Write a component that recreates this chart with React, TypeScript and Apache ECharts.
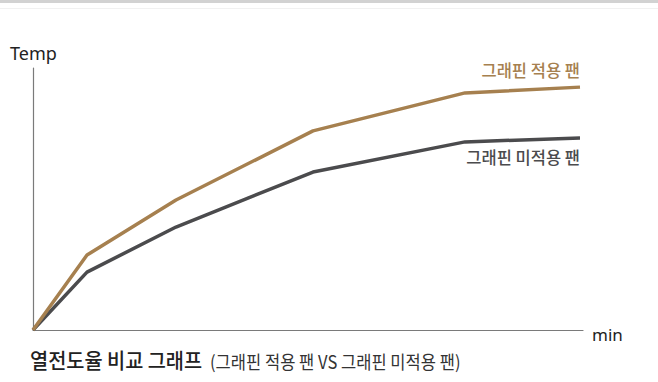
import React, { useEffect, useRef } from "react";
import * as echarts from "echarts";

const minutes = [0, 5.4, 14.3, 28, 43.2, 54.7];
const withGraphene = [0, 28.6, 49.6, 76.0, 90.5, 92.7];
const withoutGraphene = [0, 22.1, 39.3, 60.3, 71.8, 73.3];
const seriesNames = ["그래핀 적용 팬", "그래핀 미적용 팬"];
const axisNames = ["Temp", "min"];
const titleMain = "열전도율 비교 그래프";
const titleSub = "(그래핀 적용 팬 VS 그래핀 미적용 팬)";

const BROWN = "#a6804f";
const DARK = "#4b4b4d";
const FONT = "'Noto Sans CJK KR', 'Noto Sans', sans-serif";
const LATIN = "'Noto Sans', 'Open Sans', sans-serif";

export default function App() {
  const ref = useRef<HTMLDivElement>(null);
  useEffect(() => {
    if (!ref.current) return;
    const chart = echarts.init(ref.current, null, { renderer: "svg" });
    const pair = (ys: number[]) => minutes.map((x, i) => [x, ys[i]]);
    chart.setOption({
      animation: false,
      backgroundColor: "#ffffff",
      grid: { left: 33, right: 75, top: 68, bottom: 52 },
      xAxis: {
        type: "value",
        min: 0,
        max: 55,
        axisLine: { show: true, lineStyle: { color: "#7a7a7a", width: 1.2 } },
        axisTick: { show: false },
        axisLabel: { show: false },
        splitLine: { show: false },
      },
      yAxis: {
        type: "value",
        min: 0,
        max: 100,
        axisLine: { show: true, lineStyle: { color: "#7a7a7a", width: 1.2 } },
        axisTick: { show: false },
        axisLabel: { show: false },
        splitLine: { show: false },
      },
      series: [
        {
          name: seriesNames[0],
          type: "line",
          data: pair(withGraphene),
          showSymbol: false,
          symbol: "none",
          lineStyle: { color: BROWN, width: 3.5 },
          z: 3,
        },
        {
          name: seriesNames[1],
          type: "line",
          data: pair(withoutGraphene),
          showSymbol: false,
          symbol: "none",
          lineStyle: { color: DARK, width: 3.5 },
          z: 2,
        },
      ],
      graphic: [
        { type: "rect", shape: { x: 0, y: 0, width: 658, height: 3 }, style: { fill: "#d2d2d2" } },
        { type: "rect", shape: { x: 0, y: 8, width: 658, height: 1 }, style: { fill: "#f1f1f1" } },
        {
          type: "text",
          x: 10,
          y: 53,
          style: { text: axisNames[0], font: `18px ${LATIN}`, fill: "#222", textVerticalAlign: "middle" },
        },
        {
          type: "text",
          x: 592,
          y: 334,
          style: { text: axisNames[1], font: `17px ${LATIN}`, fill: "#222", textVerticalAlign: "middle" },
        },
        {
          type: "text",
          x: 580,
          y: 70,
          style: { text: seriesNames[0], font: `500 16.5px ${FONT}`, fill: BROWN, textAlign: "right", textVerticalAlign: "middle" },
        },
        {
          type: "text",
          x: 580,
          y: 157,
          style: { text: seriesNames[1], font: `500 16.5px ${FONT}`, fill: DARK, textAlign: "right", textVerticalAlign: "middle" },
        },
        {
          type: "text",
          x: 30,
          y: 359,
          scaleX: 0.94,
          style: { text: titleMain, font: `500 21px ${FONT}`, fill: "#222", textVerticalAlign: "middle" },
        },
        {
          type: "text",
          x: 210,
          y: 361,
          scaleX: 0.92,
          style: { text: titleSub, font: `18px ${FONT}`, fill: "#333", textVerticalAlign: "middle" },
        },
      ],
    });
    return () => chart.dispose();
  }, []);
  return (
    <div
      ref={ref}
      style={{ position: "fixed", left: 0, top: 0, width: 658, height: 382 }}
    />
  );
}
